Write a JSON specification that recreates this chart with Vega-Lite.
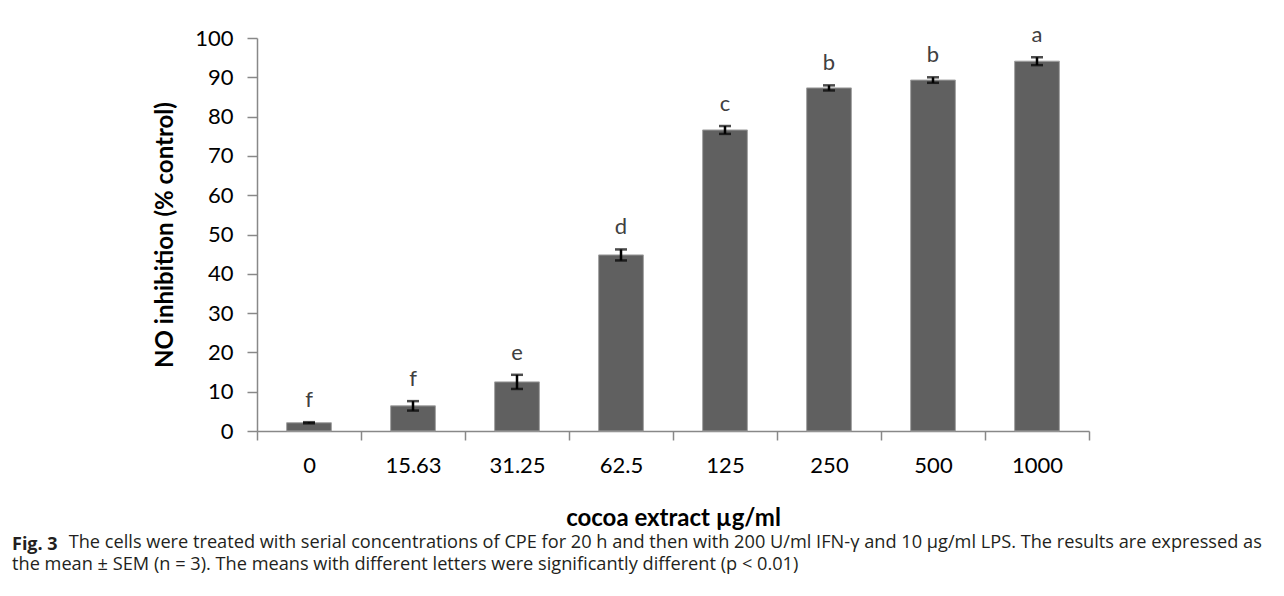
{
  "$schema": "https://vega.github.io/schema/vega-lite/v6.json",
  "autosize": "none",
  "width": 832,
  "height": 393,
  "padding": {"left": 257, "top": 38, "right": 195, "bottom": 165},
  "background": "white",
  "config": {
    "view": {"stroke": null},
    "font": "Lato",
    "axisY": {
      "titleFont": "Lato",
      "titleFontSize": 24,
      "titleFontWeight": "bold",
      "titleColor": "black",
      "titlePadding": 17,
      "labelOverlap": false,
      "labelFont": "Lato",
      "labelFontSize": 22,
      "labelColor": "black",
      "labelPadding": 14,
      "tickSize": 10,
      "tickWidth": 1.5,
      "tickColor": "#888888",
      "domainColor": "#888888",
      "domainWidth": 1.5,
      "grid": false
    }
  },
  "data": {
    "values": [
      {"conc": "0", "mean": 2.1, "sem": 0.15, "letter": "f"},
      {"conc": "15.63", "mean": 6.4, "sem": 1.2, "letter": "f"},
      {"conc": "31.25", "mean": 12.5, "sem": 1.8, "letter": "e"},
      {"conc": "62.5", "mean": 44.8, "sem": 1.4, "letter": "d"},
      {"conc": "125", "mean": 76.6, "sem": 1.0, "letter": "c"},
      {"conc": "250", "mean": 87.3, "sem": 0.65, "letter": "b"},
      {"conc": "500", "mean": 89.3, "sem": 0.7, "letter": "b"},
      {"conc": "1000", "mean": 94.1, "sem": 1.0, "letter": "a"}
    ]
  },
  "transform": [
    {"calculate": "datum.mean - datum.sem", "as": "lower"},
    {"calculate": "datum.mean + datum.sem", "as": "upper"}
  ],
  "title": {
    "text": "Fig. 3",
    "subtitle": [
      "\u200b\u00a0\u00a0\u00a0\u00a0\u00a0\u00a0\u00a0\u00a0\u00a0\u00a0\u00a0\u00a0The cells were treated with serial concentrations of CPE for 20 h and then with 200 U/ml IFN-γ and 10 µg/ml LPS. The results are expressed as",
      "the mean ± SEM (n = 3). The means with different letters were significantly different (p < 0.01)"
    ],
    "orient": "bottom",
    "anchor": "start",
    "frame": "group",
    "dx": -245,
    "offset": 6,
    "font": "Open Sans",
    "fontSize": 18,
    "fontWeight": "bold",
    "color": "#231f20",
    "subtitleFont": "Open Sans",
    "subtitleFontSize": 18.2,
    "subtitleFontWeight": "normal",
    "subtitleColor": "#231f20",
    "subtitleLineHeight": 22,
    "subtitlePadding": -20
  },
  "encoding": {
    "x": {
      "field": "conc",
      "type": "nominal",
      "sort": null,
      "scale": {"paddingInner": 0, "paddingOuter": 0},
      "axis": {
        "title": "cocoa extract µg/ml",
        "titleFont": "Lato",
        "titleFontSize": 24,
        "titleFontWeight": "bold",
        "titleColor": "black",
        "titlePadding": 30,
        "labelAngle": 0,
        "labelFont": "Lato",
        "labelFontSize": 22,
        "labelColor": "black",
        "labelPadding": 15,
        "tickBand": "extent",
        "tickSize": 9,
        "tickWidth": 1.5,
        "tickColor": "#888888",
        "domainColor": "#888888",
        "domainWidth": 1.5
      }
    }
  },
  "layer": [
    {
      "mark": {"type": "bar", "width": {"band": 0.43}, "color": "#606060", "stroke": "#a0a0a0", "strokeWidth": 1},
      "encoding": {
        "y": {
          "field": "mean",
          "type": "quantitative",
          "scale": {"domain": [0, 100], "nice": false},
          "axis": {"title": "NO inhibition (% control)", "values": [0, 10, 20, 30, 40, 50, 60, 70, 80, 90, 100]}
        }
      }
    },
    {
      "mark": {"type": "rule", "color": "black", "strokeWidth": 2.5},
      "encoding": {
        "y": {"field": "lower", "type": "quantitative", "axis": {"title": "NO inhibition (% control)", "values": [0, 10, 20, 30, 40, 50, 60, 70, 80, 90, 100]}},
        "y2": {"field": "upper"}
      }
    },
    {
      "mark": {"type": "tick", "color": "black", "size": 12, "thickness": 2.5},
      "encoding": {"y": {"field": "lower", "type": "quantitative", "axis": {"title": "NO inhibition (% control)", "values": [0, 10, 20, 30, 40, 50, 60, 70, 80, 90, 100]}}}
    },
    {
      "mark": {"type": "tick", "color": "black", "size": 12, "thickness": 2.5},
      "encoding": {"y": {"field": "upper", "type": "quantitative", "axis": {"title": "NO inhibition (% control)", "values": [0, 10, 20, 30, 40, 50, 60, 70, 80, 90, 100]}}}
    },
    {
      "mark": {"type": "text", "baseline": "alphabetic", "dy": -15, "font": "Lato", "fontSize": 22, "color": "#404040"},
      "encoding": {
        "y": {"field": "upper", "type": "quantitative", "axis": {"title": "NO inhibition (% control)", "values": [0, 10, 20, 30, 40, 50, 60, 70, 80, 90, 100]}},
        "text": {"field": "letter"}
      }
    }
  ]
}
